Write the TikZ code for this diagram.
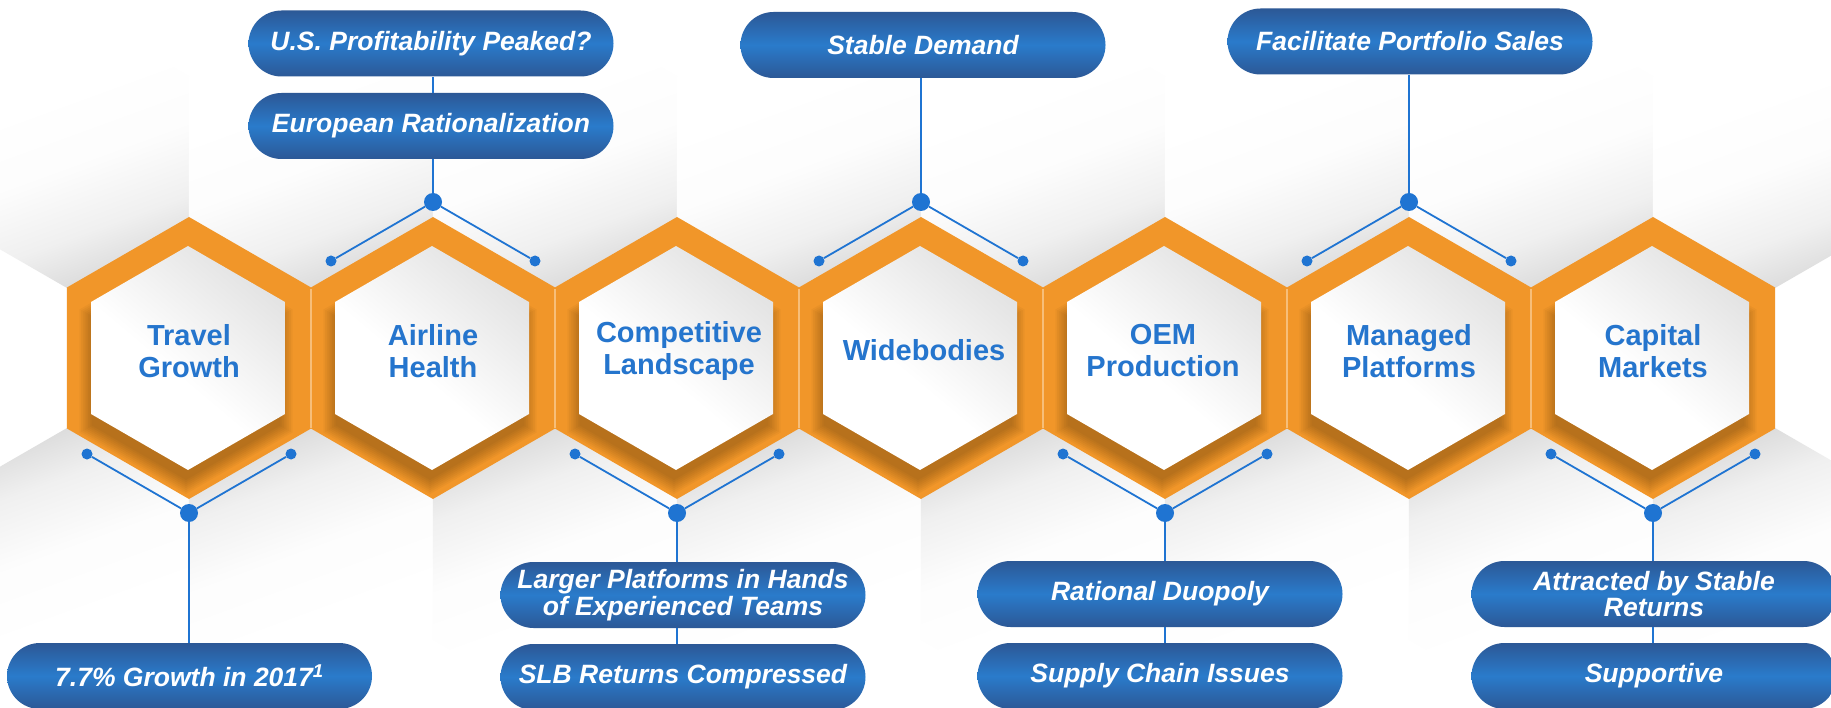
\documentclass[tikz,border=0pt]{standalone}
\usepackage{fontspec}
\setmainfont{Liberation Sans}
\usetikzlibrary{calc}
\definecolor{hexorange}{RGB}{241,150,41}
\definecolor{hexseam}{RGB}{247,190,120}
\definecolor{hexblue}{RGB}{37,117,205}
\definecolor{linkblue}{RGB}{31,116,210}
\definecolor{pilldark}{RGB}{44,88,150}
\definecolor{pillmid}{RGB}{42,123,203}
\pgfdeclareverticalshading{bgtopsh}{100bp}{color(0bp)=(black!14); color(25bp)=(black!14); color(34bp)=(black!6); color(46bp)=(black!1); color(60bp)=(white); color(100bp)=(white)}
\pgfdeclareverticalshading{bgbotsh}{100bp}{color(0bp)=(white); color(40bp)=(white); color(54bp)=(black!1); color(66bp)=(black!6); color(75bp)=(black!14); color(100bp)=(black!14)}
\pgfdeclareverticalshading{innersh}{100bp}{color(0bp)=(white); color(45bp)=(white); color(75bp)=(black!11); color(100bp)=(black!11)}
\newcommand{\hexp}[3]{({#1},{(#2)-(#3)}) -- ({(#1)+0.8660254*(#3)},{(#2)-0.5*(#3)}) -- ({(#1)+0.8660254*(#3)},{(#2)+0.5*(#3)}) -- ({#1},{(#2)+(#3)}) -- ({(#1)-0.8660254*(#3)},{(#2)+0.5*(#3)}) -- ({(#1)-0.8660254*(#3)},{(#2)-0.5*(#3)}) -- cycle}
\begin{document}
\begin{tikzpicture}[x=1pt,y=-1pt,
  pillbox/.style={rounded corners=33pt, minimum width=365pt, minimum height=66pt, inner sep=0pt,
    top color=pilldark, bottom color=pilldark, middle color=pillmid, text=white,
    font=\fontsize{26.5}{26.5}\selectfont\bfseries\itshape, align=center},
  hexlabel/.style={text=hexblue, font=\fontsize{29}{32}\selectfont\bfseries, align=center, inner sep=0pt},
  bigdot/.style={circle, fill=linkblue, minimum size=18pt, inner sep=0pt},
  smalldot/.style={circle, fill=linkblue, minimum size=11pt, inner sep=0pt},
  linkline/.style={draw=linkblue, line width=1.8pt}]
\useasboundingbox (0,0) rectangle (1831,708);
\fill[white] (0,0) rectangle (1831,708);
% background honeycomb
\foreach \bx in {67,311,555,799,1043,1287,1531,1775} {
  \shade[shading=bgtopsh, shading angle=20] \hexp{\bx}{147}{141};
  \shade[shading=bgbotsh, shading angle=20] \hexp{\bx}{569}{141};
}
% orange hexagons
\foreach \cx in {189,433,677,921,1165,1409,1653} {
  \fill[hexorange] \hexp{\cx}{358}{141};
}
\foreach \sx in {311,555,799,1043,1287,1531} {
  \draw[hexseam, line width=1.2pt] (\sx,289) -- (\sx,428);
}
\foreach \cx in {189,433,677,921,1165,1409,1653} {
  \begin{scope}
    \clip \hexp{\cx}{358}{141};
    \foreach \k in {0,...,7} {
      \fill[black, opacity=0.03] \hexp{\cx-3}{371}{109+2*\k};
    }
  \end{scope}
  \shade[shading=innersh, shading angle=-40] \hexp{\cx-1}{358}{112};
}
% hexagon labels
\node[hexlabel] (h1) at (189,351) {Travel\\Growth};
\node[hexlabel] (h2) at (433,351) {Airline\\Health};
\node[hexlabel] (h3) at (679,351) {Competitive\\Landscape};
\node[hexlabel] (h4) at (924,350) {Widebodies};
\node[hexlabel] (h5) at (1163,351) {OEM\\Production};
\node[hexlabel] (h6) at (1409,351) {Managed\\Platforms};
\node[hexlabel] (h7) at (1653,351) {Capital\\Markets};
% top connectors
\foreach \i/\cx in {2/433,4/921,6/1409} {
  \node[bigdot] (d\i) at (\cx,202) {};
  \node[smalldot] (l\i) at ({\cx-102},261) {};
  \node[smalldot] (r\i) at ({\cx+102},261) {};
  \draw[linkline] (d\i) -- (l\i);
  \draw[linkline] (d\i) -- (r\i);
}
% bottom connectors
\foreach \i/\cx in {1/189,3/677,5/1165,7/1653} {
  \node[bigdot] (d\i) at (\cx,513) {};
  \node[smalldot] (l\i) at ({\cx-102},454) {};
  \node[smalldot] (r\i) at ({\cx+102},454) {};
  \draw[linkline] (d\i) -- (l\i);
  \draw[linkline] (d\i) -- (r\i);
}
% pills top
\node[pillbox] (p2a) at (431,43.5) {U.S. Profitability Peaked?};
\node[pillbox] (p2b) at (431,126) {European Rationalization};
\node[pillbox] (p4) at (923,45) {Stable Demand};
\node[pillbox] (p6) at (1410,41.5) {Facilitate Portfolio Sales};
% pills bottom
\node[pillbox] (p1) at (189.5,676) {7.7\% Growth in 2017\textsuperscript{1}};
\node[pillbox] (p3a) at (683,595) {Larger Platforms in Hands\\of Experienced Teams};
\node[pillbox] (p3b) at (683,677) {SLB Returns Compressed};
\node[pillbox] (p5a) at (1160,594) {Rational Duopoly};
\node[pillbox] (p5b) at (1160,676) {Supply Chain Issues};
\node[pillbox] (p7a) at (1654,594) {Attracted by Stable\\Returns};
\node[pillbox] (p7b) at (1654,676) {Supportive};
% vertical links
\draw[linkline] (d2) -- (d2 |- p2b.south);
\draw[linkline] (d2 |- p2b.north) -- (d2 |- p2a.south);
\draw[linkline] (d4) -- (d4 |- p4.south);
\draw[linkline] (d6) -- (d6 |- p6.south);
\draw[linkline] (d1) -- (d1 |- p1.north);
\draw[linkline] (d3) -- (d3 |- p3a.north);
\draw[linkline] (d3 |- p3a.south) -- (d3 |- p3b.north);
\draw[linkline] (d5) -- (d5 |- p5a.north);
\draw[linkline] (d5 |- p5a.south) -- (d5 |- p5b.north);
\draw[linkline] (d7) -- (d7 |- p7a.north);
\draw[linkline] (d7 |- p7a.south) -- (d7 |- p7b.north);
\end{tikzpicture}
\end{document}
